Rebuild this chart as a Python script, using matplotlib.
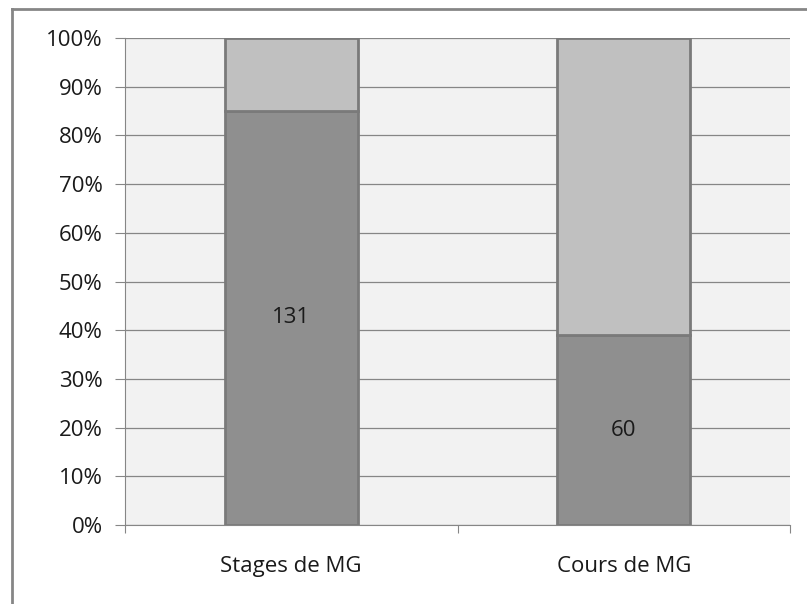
import matplotlib.pyplot as plt
from matplotlib.lines import Line2D

plt.rcParams['font.family'] = ['Open Sans', 'DejaVu Sans']

categories = ['Stages de MG', 'Cours de MG']
oui = [131, 60]
non = [23, 94]

totals = [a + b for a, b in zip(oui, non)]
pct_oui = [100 * a / t for a, t in zip(oui, totals)]
pct_non = [100 * b / t for b, t in zip(non, totals)]

fig = plt.figure(figsize=(8.07, 6.04), dpi=100)
ax = fig.add_axes([125 / 807, 79 / 604, 665 / 807, 487 / 604])

edge = '#7a7a7a'
fs = 16
x = range(len(categories))
ax.bar(x, pct_oui, width=0.4, color='#8f8f8f', edgecolor=edge, linewidth=2, zorder=3)
ax.bar(x, pct_non, width=0.4, bottom=pct_oui, color='#c0c0c0', edgecolor=edge,
       linewidth=2, zorder=3)

for i, (p, v) in enumerate(zip(pct_oui, oui)):
    ax.text(i, p / 2, str(v), ha='center', va='center', fontsize=fs, color='#1a1a1a', zorder=4)

ax.set_facecolor('#f2f2f2')
ax.set_xlim(-0.5, 1.5)
ax.set_ylim(0, 100)
ax.set_yticks(range(0, 101, 10))
ax.set_yticklabels([f'{t}%' for t in range(0, 101, 10)], fontsize=fs, color='#1a1a1a')
ax.yaxis.grid(True, color='#868686', linewidth=0.9, zorder=0)

ax.set_xticks([-0.5, 0.5, 1.5])
ax.set_xticklabels([])
ax.set_xticks([0, 1], minor=True)
ax.set_xticklabels(categories, minor=True, fontsize=fs, color='#1a1a1a')
ax.tick_params(axis='x', which='minor', length=0, pad=22)
ax.tick_params(axis='x', which='major', length=6, color='#868686', direction='out')
ax.tick_params(axis='y', length=7, color='#868686', pad=9)

for s in ['top', 'right']:
    ax.spines[s].set_visible(False)
ax.spines['left'].set_color('#868686')
ax.spines['bottom'].set_color('#868686')

# frame around the chart area (left and top edges)
fig.add_artist(Line2D([12 / 807, 12 / 807], [0, 1 - 9 / 604], transform=fig.transFigure,
                      color='#868686', linewidth=2))
fig.add_artist(Line2D([12 / 807, 1], [1 - 9 / 604, 1 - 9 / 604], transform=fig.transFigure,
                      color='#868686', linewidth=2))

fig.savefig('out.png', dpi=100)
